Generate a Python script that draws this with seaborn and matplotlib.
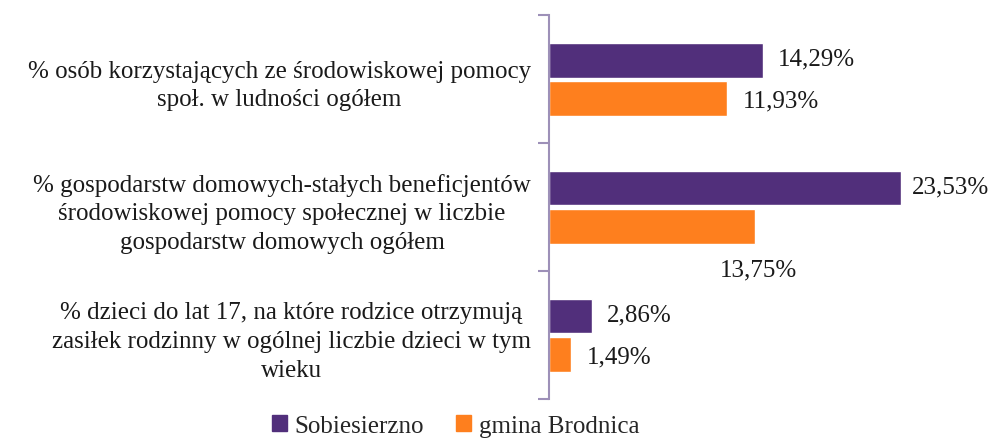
import pandas as pd
import numpy as np
import seaborn as sns
import matplotlib.pyplot as plt

#data
categories = [
    "% osób korzystających ze środowiskowej pomocy\nspoł. w ludności ogółem",
    "% gospodarstw domowych-stałych beneficjentów\nśrodowiskowej pomocy społecznej w liczbie\ngospodarstw domowych ogółem",
    "% dzieci do lat 17, na które rodzice otrzymują\nzasiłek rodzinny w ogólnej liczbie dzieci w tym\nwieku",
]
series_names = ["Sobiesierzno", "gmina Brodnica"]
sobiesierzno = [14.29, 23.53, 2.86]
brodnica = [11.93, 13.75, 1.49]

colors = ["#512F7B", "#FE7F1E"]

df = pd.DataFrame({
    "category": categories * 2,
    "series": [series_names[0]] * 3 + [series_names[1]] * 3,
    "value": sobiesierzno + brodnica,
})

sns.set_style("white")
plt.rcParams['font.family'] = ['Liberation Serif', 'DejaVu Serif']

fig = plt.figure(figsize=(9.97, 4.39), dpi=100)
ax = fig.add_axes([0.5507, 0.0888, 0.449, 0.8747])

sns.barplot(data=df, x="value", y="category", hue="series", orient="h",
            palette=colors, saturation=1, width=0.594, gap=0.08, ax=ax, legend=False)

ax.set_xlim(0, 29.95)
ax.set_ylim(2.5, -0.5)
ax.set_xlabel("")
ax.set_ylabel("")
ax.set_xticks([])

# tick labels centred lines
ax.tick_params(axis="y", which="major", length=0, pad=13, labelsize=18, labelcolor="#1a1a1a")
for lab in ax.get_yticklabels():
    lab.set_multialignment("center")
    lab.set_linespacing(1.4)
ax.set_yticks([-0.5, 0.5, 1.5, 2.5], minor=True)
ax.tick_params(axis="y", which="minor", length=8, width=1.5, color="#9D90B8", left=True)

for s in ["top", "right", "bottom"]:
    ax.spines[s].set_visible(False)
ax.spines["left"].set_color("#9D90B8")
ax.spines["left"].set_linewidth(1.5)

# value labels (offsets in points)
offsets = [[(11, 0), (11, 0)], [(8, 0), (-25, -30)], [(11, 0), (11, 0)]]
for i in range(3):
    for j, vals in enumerate([sobiesierzno, brodnica]):
        v = vals[i]
        yy = i + (-0.164 if j == 0 else 0.164)
        dx, dy = offsets[i][j]
        ax.annotate(f"{v:.2f}%".replace(".", ","), (v, yy), xytext=(dx, dy),
                    textcoords="offset points", ha="left", va="center",
                    fontsize=18, color="#1a1a1a")

# legend
handles = [plt.Rectangle((0, 0), 1, 1, color=c) for c in colors]
fig.legend(handles, series_names, loc="center", bbox_to_anchor=(0.457, 0.027),
           ncol=2, frameon=False, fontsize=18, handlelength=0.6, handleheight=0.6,
           handletextpad=0.3, columnspacing=1.3, borderpad=0)

plt.savefig("out.png", dpi=100)
